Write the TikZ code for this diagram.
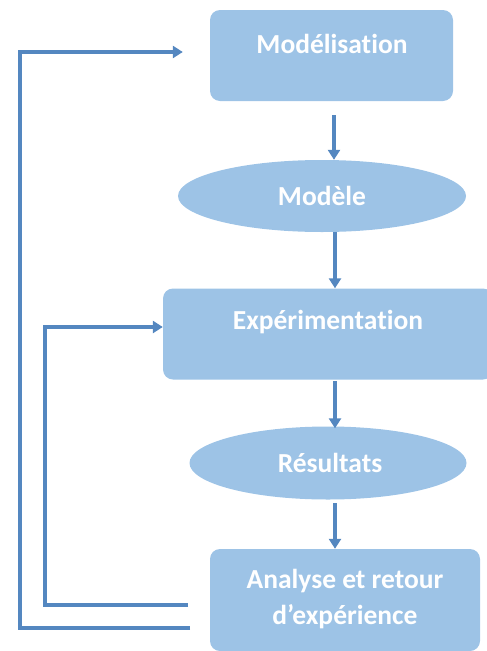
\documentclass[tikz,border=0pt]{standalone}
\usepackage{fontspec}
\setmainfont{Carlito}[Ligatures=NoCommon]
\usetikzlibrary{shapes.geometric,calc,arrows.meta}
\definecolor{boxfill}{HTML}{9DC3E6}
\definecolor{linecol}{HTML}{5487C0}
\tikzset{
  box/.style={draw=none,fill=boxfill,rounded corners=10pt,inner sep=0pt},
  oval/.style={ellipse,draw=none,fill=boxfill,inner sep=0pt},
  lbl/.style={text=white,font=\bfseries\fontsize{27.5}{33}\selectfont,align=center,inner sep=0pt},
  arr/.style={draw=linecol,line width=3.6pt,-{Triangle[length=10pt,width=12pt]}}
}
\begin{document}
\begin{tikzpicture}[x=1pt,y=-1pt]
\useasboundingbox (0,0) rectangle (487,651);
% boxes
\node[box,minimum width=243pt,minimum height=91pt] (mod) at (331.5,55.5) {};
\node[lbl] (modt) at (332,44) {Modélisation};
\node[oval,minimum width=288pt,minimum height=72pt] (modele) at (322,196) {};
\node[lbl] (modelet) at (322,196) {Modèle};
\node[box,minimum width=330pt,minimum height=91pt] (exp) at (328,334) {};
\node[lbl] (expt) at (328,322) {Expérimentation};
\node[oval,minimum width=277pt,minimum height=73pt] (res) at (328,463) {};
\node[lbl] (rest) at (330,463) {Résultats};
\node[box,minimum width=270pt,minimum height=102pt] (ana) at (345,600) {};
\node[lbl] (anat) at (345,599) {Analyse et retour\\[3pt]d’expérience};
% arrow coordinates
\coordinate (a1s) at (334,115);
\coordinate (a2s) at (335,232);
\coordinate (a3s) at (335,381);
\coordinate (a4s) at (335,503);
\coordinate (o1) at (190,628);
\coordinate (o2) at (20,628);
\coordinate (o3) at (20,52);
\coordinate (i1) at (188,605);
\coordinate (i2) at (45,605);
\coordinate (i3) at (45,327);
% vertical arrows
\draw[arr] (a1s) -- (a1s |- modele.north);
\draw[arr] (a2s) -- (a2s |- exp.north);
\draw[arr] (a3s) -- ([yshift=-2pt]a3s |- res.north);
\draw[arr] (a4s) -- (a4s |- ana.north);
% feedback loops
\draw[arr] (o1) -- (o2) -- (o3) -- ([xshift=-27pt]mod.west |- o3);
\draw[arr] (i1) -- (i2) -- (i3) -- (exp.west |- i3);
\end{tikzpicture}
\end{document}
